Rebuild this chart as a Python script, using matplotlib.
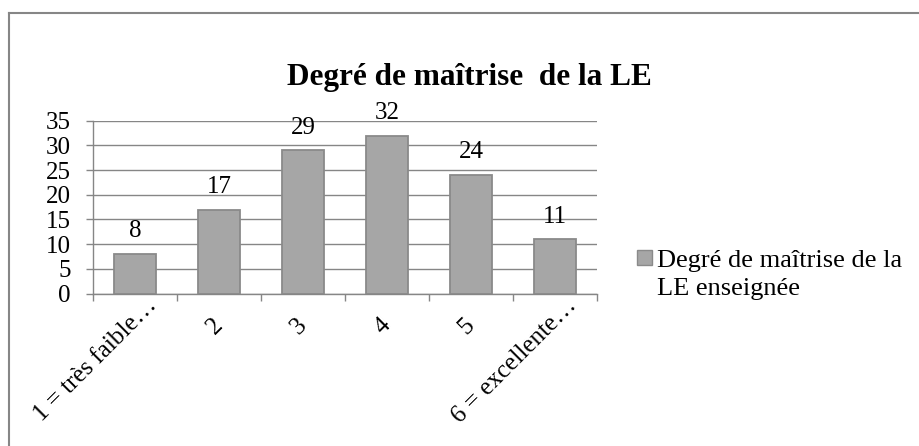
import matplotlib
matplotlib.use("Agg")
import matplotlib.pyplot as plt
from matplotlib.patches import Rectangle
from matplotlib.lines import Line2D
import matplotlib.transforms as mtransforms

categories = ["1 = très faible…", "2", "3", "4", "5", "6 = excellente…"]
values = [8, 17, 29, 32, 24, 11]
yticks = [0, 5, 10, 15, 20, 25, 30, 35]
title = "Degré de maîtrise  de la LE"
series_name = "Degré de maîtrise de la\nLE enseignée"

W, H, DPI = 919, 446, 100
plt.rcParams['font.family'] = ['Liberation Serif', 'DejaVu Serif']

fig = plt.figure(figsize=(W / DPI, H / DPI), dpi=DPI)
fig.patch.set_facecolor("white")

# outer chart border (left and top visible)
fig.add_artist(Line2D([8.5 / W, 8.5 / W], [0, 1 - 12.5 / H], transform=fig.transFigure,
                      color="#868686", lw=1.5))
fig.add_artist(Line2D([8.5 / W, 1], [1 - 12.5 / H, 1 - 12.5 / H], transform=fig.transFigure,
                      color="#868686", lw=1.5))

ax = fig.add_axes([93 / W, 1 - 293.5 / H, (597 - 93) / W, (293.5 - 120.7) / H])
grey_line = "#868686"
bar_fill = "#a6a6a6"
bar_edge = "#8a8a8a"
x = list(range(len(categories)))
bars = ax.bar(x, values, width=0.505, color=bar_fill, edgecolor=bar_edge, linewidth=1.3, zorder=3)

ax.set_xlim(-0.5, len(categories) - 0.5)
ax.set_ylim(0, 35)
ax.set_yticks(yticks)
ax.set_yticklabels([str(v) for v in yticks], fontsize=18)
ax.yaxis.grid(True, color=grey_line, linewidth=1.0, zorder=0)
ax.set_axisbelow(True)
for s in ["top", "right"]:
    ax.spines[s].set_visible(False)
for s in ["left", "bottom"]:
    ax.spines[s].set_color(grey_line)
    ax.spines[s].set_linewidth(1.0)
ax.tick_params(axis="y", length=5, width=1, color=grey_line, pad=11)
ax.set_xticks([i - 0.5 for i in range(len(categories) + 1)])
ax.set_xticklabels([])
ax.tick_params(axis="x", length=5, width=1, color=grey_line)

# category labels rotated
for i, lab in enumerate(categories):
    if lab.endswith("…"):
        dx, dy = 18.5, -9
    else:
        dx, dy = 0, -28
    tr = ax.transData + mtransforms.ScaledTranslation(dx / DPI, dy / DPI, fig.dpi_scale_trans)
    ax.text(i, 0, lab, transform=tr, rotation=45, ha="right", va="center",
            rotation_mode="anchor", fontsize=18, clip_on=False)

# data labels
for i, v in enumerate(values):
    ax.annotate(str(v), (i, v), xytext=(0, 12), textcoords="offset points",
                ha="center", va="baseline", fontsize=18)

fig.text(469 / W, 1 - 85 / H, title, ha="center", va="baseline", fontsize=22.5, fontweight="bold")

# legend (handle aligned with first line, as in the reference)
fig.add_artist(Rectangle((637 / W, 1 - 265 / H), 15 / W, 15 / H, transform=fig.transFigure,
                         facecolor=bar_fill, edgecolor=bar_edge, linewidth=1.0))
fig.text(657 / W, 1 - 267 / H, series_name.split("\n")[0], ha="left", va="baseline", fontsize=19)
fig.text(657 / W, 1 - 295 / H, series_name.split("\n")[1], ha="left", va="baseline", fontsize=19)

fig.savefig("out.png", dpi=DPI)
